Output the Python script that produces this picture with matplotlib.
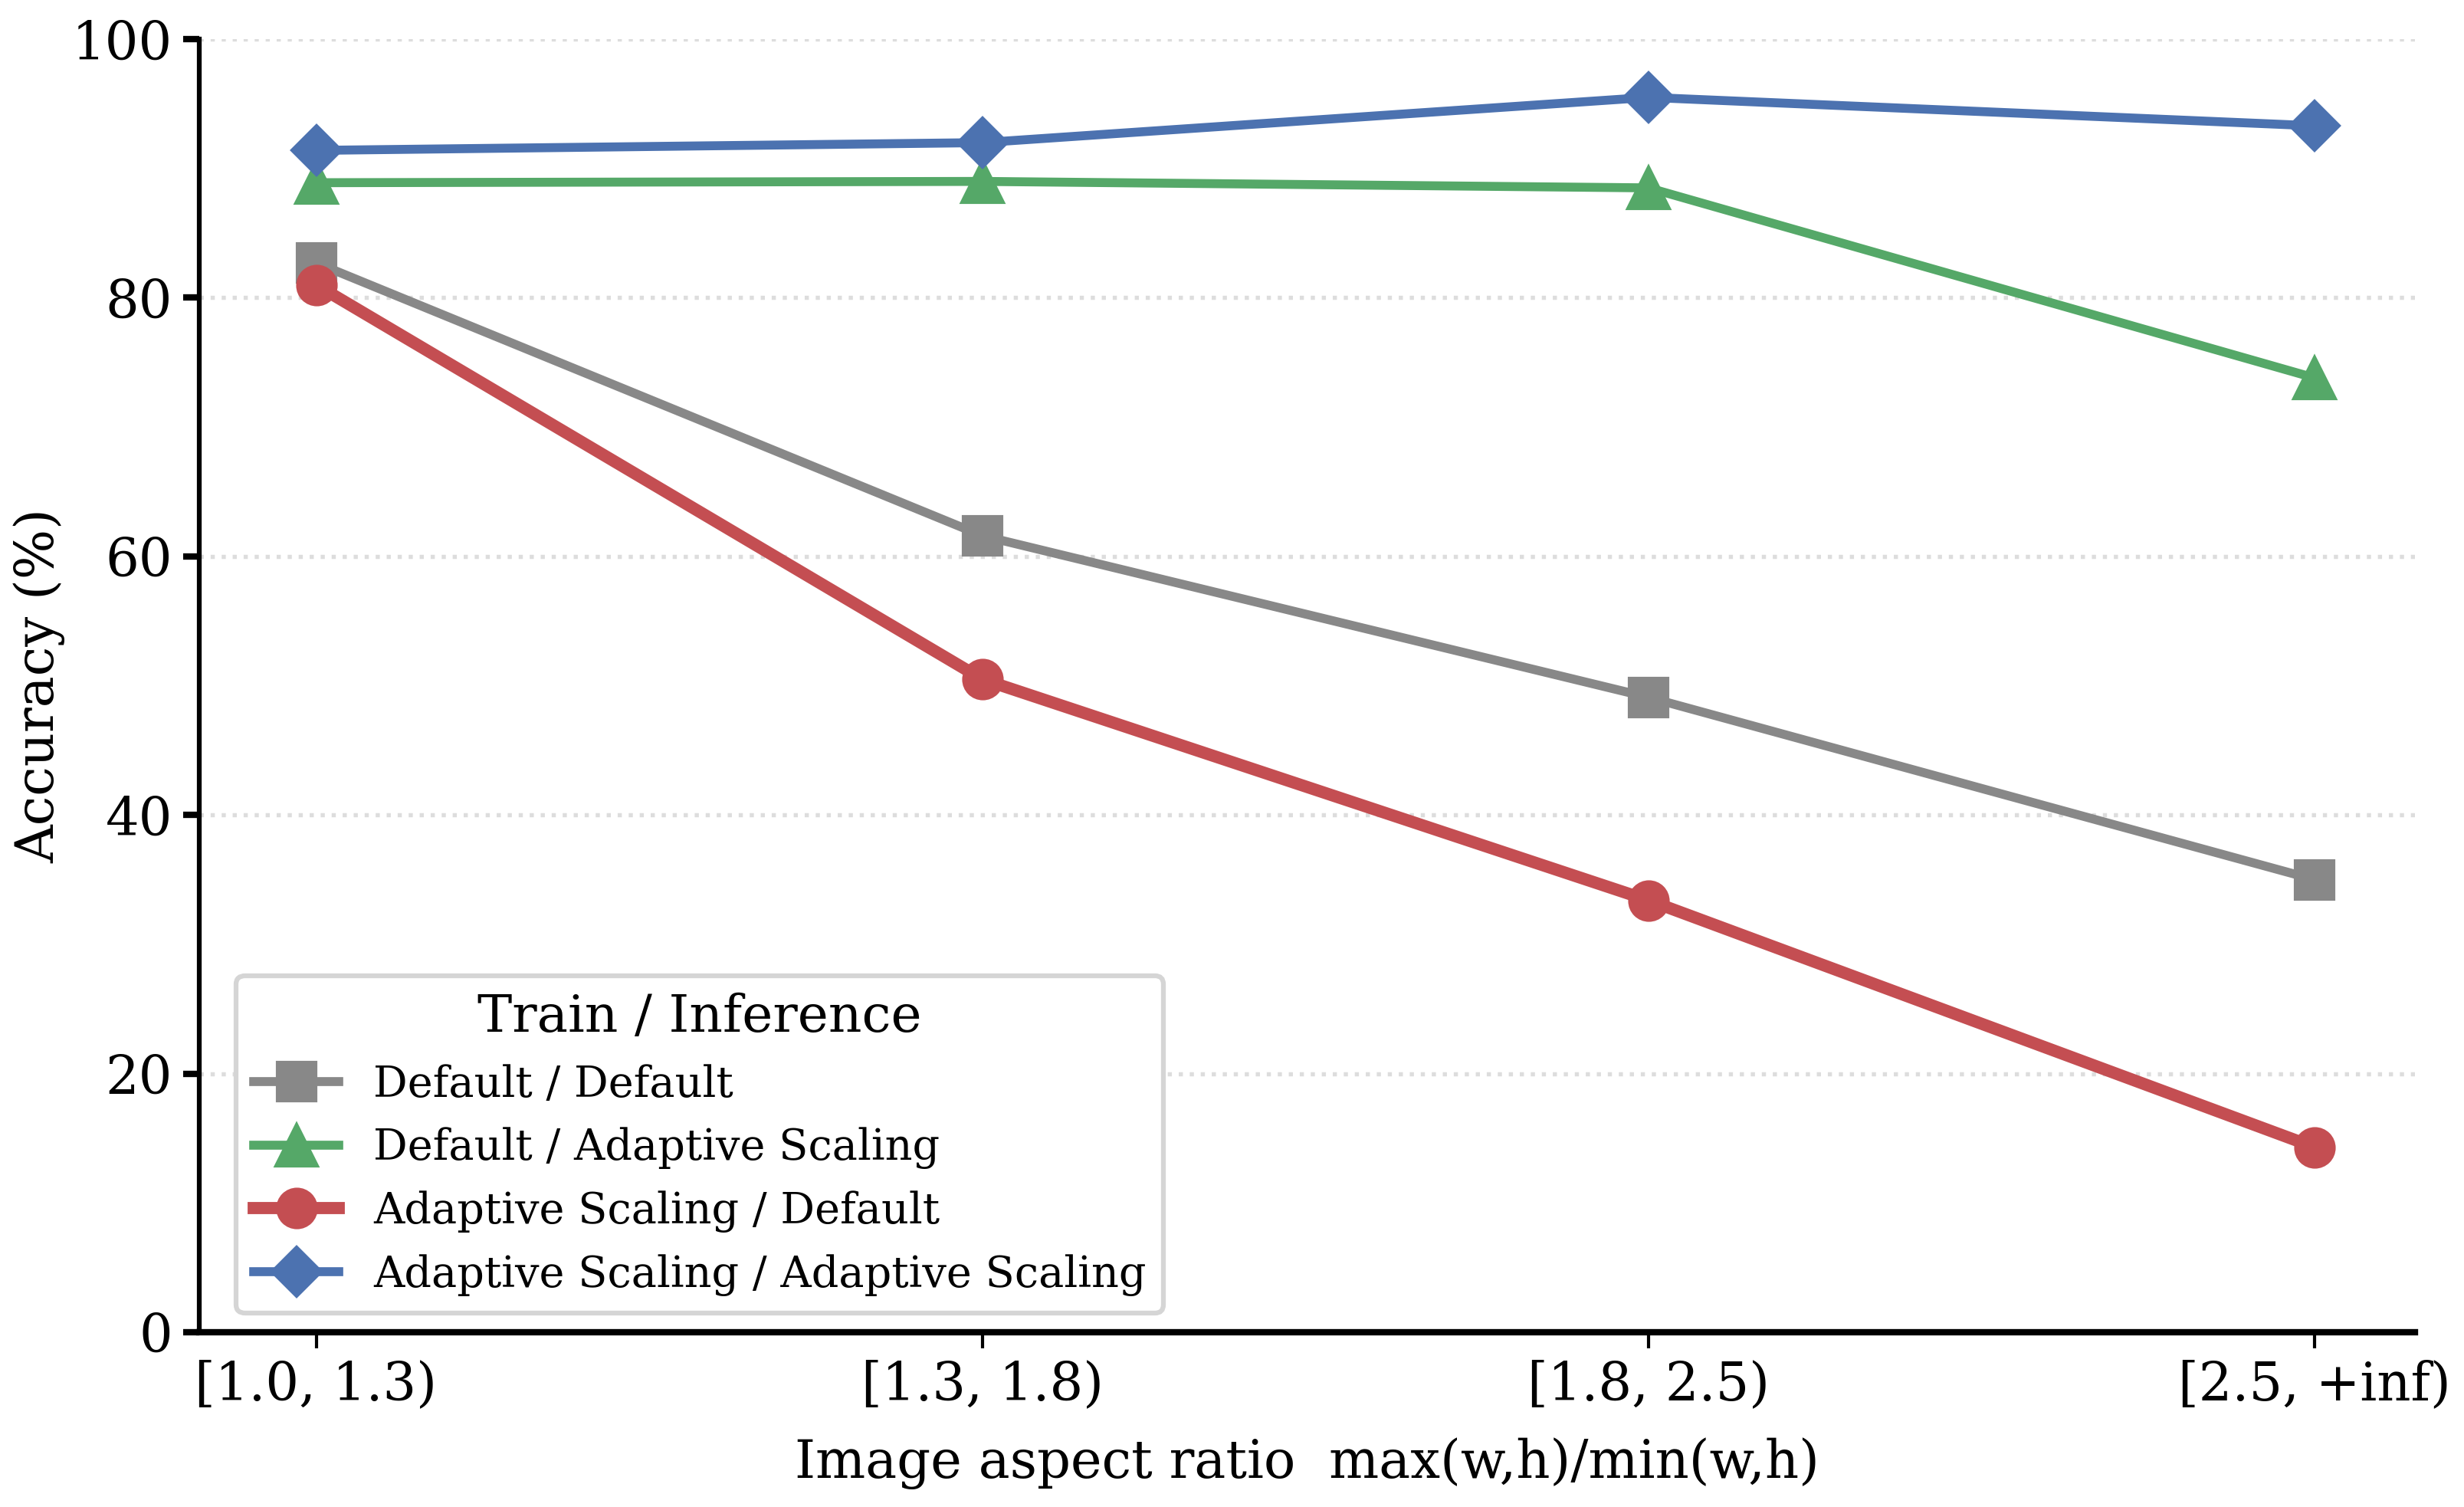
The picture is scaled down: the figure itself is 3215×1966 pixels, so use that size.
import matplotlib
matplotlib.use("Agg")
import matplotlib.pyplot as plt

plt.rcParams['font.family'] = ['DejaVu Serif']

# bins of image aspect ratio
categories = ["[1.0, 1.3)", "[1.3, 1.8)", "[1.8, 2.5)", "[2.5, +inf)"]

# accuracy (%) per train / inference setting
default_default = [82.7, 61.6, 49.1, 35.0]
default_adaptive = [88.9, 89.0, 88.5, 73.8]
adaptive_default = [81.0, 50.5, 33.4, 14.3]
adaptive_adaptive = [91.4, 92.0, 95.5, 93.3]

x = list(range(len(categories)))

fig = plt.figure(figsize=(3215/300, 1966/300), dpi=300)
ax = fig.add_axes([0.081, 0.116, 0.899, 0.858])

ax.plot(x, default_default, color='#888888', marker='s', markersize=12, lw=2.8,
        label='Default / Default')
ax.plot(x, default_adaptive, color='#55A868', marker='^', markersize=13, lw=2.8,
        label='Default / Adaptive Scaling')
ax.plot(x, adaptive_default, color='#C44E52', marker='o', markersize=12, lw=3.8,
        label='Adaptive Scaling / Default')
ax.plot(x, adaptive_adaptive, color='#4C72B0', marker='D', markersize=11, lw=2.8,
        label='Adaptive Scaling / Adaptive Scaling')

ax.set_xlim(-0.175, 3.15)
ax.set_ylim(0, 100)
ax.set_xticks(x)
ax.set_xticklabels(categories, fontsize=16.5)
ax.set_yticks([0, 20, 40, 60, 80, 100])
ax.tick_params(axis='y', labelsize=16.5, width=2, length=5)
ax.tick_params(axis='x', width=1, length=5)
ax.set_xlabel('Image aspect ratio  max(w,h)/min(w,h)', fontsize=16.5, labelpad=8.5)
ax.set_ylabel('Accuracy (%)', fontsize=16.5, labelpad=2)

ax.yaxis.grid(True, linestyle=':', color='#dddddd', lw=1.3)
ax.set_axisbelow(True)
for s in ['top', 'right']:
    ax.spines[s].set_visible(False)
ax.spines['left'].set_linewidth(1.5)
ax.spines['bottom'].set_linewidth(2)

leg = ax.legend(title='Train / Inference', loc='lower left',
                bbox_to_anchor=(0.0166, 0.0148), borderaxespad=0,
                fontsize=13.4, title_fontsize=16.3, frameon=True, fancybox=True,
                edgecolor='#d5d5d5', framealpha=1, borderpad=0.4,
                handlelength=2.0, handletextpad=0.8)
leg.get_frame().set_linewidth(1.5)

fig.savefig('out.png', dpi=300)
